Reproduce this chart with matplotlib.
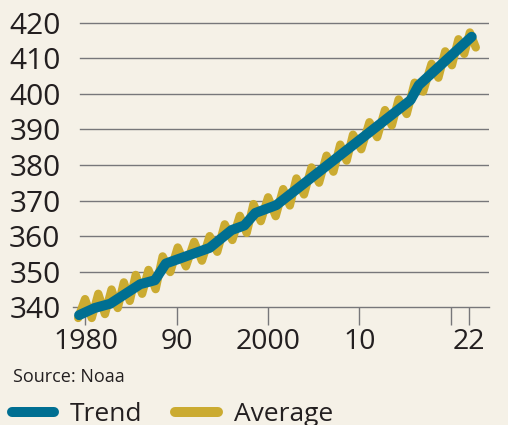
import matplotlib
matplotlib.use("Agg")
import matplotlib.pyplot as plt
from matplotlib.lines import Line2D

# ---- data ----
trend_years = [1979.3, 1981.0, 1982.7, 1986.0, 1987.6, 1988.8, 1993.6, 1996.0,
               1997.4, 1998.6, 2000.9, 2015.6, 2016.5, 2022.3]
trend_values = [337.8, 339.8, 341.0, 346.5, 347.6, 352.3, 356.7, 361.7,
                363.0, 366.5, 368.7, 398.2, 402.4, 416.0]

avg_years = [1979.2, 1979.95, 1980.68, 1981.4, 1982.13, 1982.85, 1983.53, 1984.2,
             1984.85, 1985.5, 1986.2, 1986.9, 1987.68, 1988.45, 1989.28, 1990.1,
             1991.0, 1991.9, 1992.75, 1993.6, 1994.43, 1995.25, 1996.08, 1996.9,
             1997.65, 1998.4, 1999.2, 2000.0, 2000.83, 2001.65, 2002.38, 2003.1,
             2003.93, 2004.75, 2005.58, 2006.4, 2007.15, 2007.9, 2008.6, 2009.3,
             2010.2, 2011.1, 2011.95, 2012.8, 2013.55, 2014.3, 2015.18, 2016.05,
             2016.98, 2017.9, 2018.65, 2019.4, 2020.13, 2020.85, 2021.48, 2022.1,
             2022.75]
avg_values = [337.0, 342.3, 337.0, 343.8, 338.1, 345.0, 339.8, 347.0,
              341.8, 349.1, 343.8, 350.5, 345.1, 354.3, 349.9, 356.8,
              351.5, 358.4, 353.1, 360.0, 355.6, 363.3, 358.9, 365.7,
              360.9, 369.0, 364.2, 370.9, 365.6, 373.2, 368.6, 376.2,
              371.7, 379.3, 375.0, 382.6, 378.1, 385.7, 381.2, 388.5,
              384.4, 392.0, 387.8, 395.4, 391.1, 398.4, 394.3, 403.1,
              400.6, 408.4, 404.5, 411.9, 408.0, 415.3, 411.2, 417.2,
              413.0]

y_ticks = [340, 350, 360, 370, 380, 390, 400, 410, 420]
x_ticks = [1980, 1990, 2000, 2010, 2020, 2022]
x_tick_labels = ["1980", "90", "2000", "10", "", "22"]

# ---- style ----
BG = "#f5f1e7"
BLUE = "#006f92"
GOLD = "#cbab31"
GRID = "#77777a"
TXT = "#231f20"
FONT = "Open Sans"

W, H = 508, 425
fig = plt.figure(figsize=(W / 100, H / 100), dpi=100, facecolor=BG)

ax_l, ax_r = 73, 489
ax_bot, ax_top = 307.3, 15.4
ax = fig.add_axes([ax_l / W, 1 - ax_bot / H, (ax_r - ax_l) / W, (ax_bot - ax_top) / H])
ax.set_facecolor(BG)

px_per_year = 9.13
x0 = 1980 - (85.5 - ax_l) / px_per_year
x1 = 1980 + (ax_r - 85.5) / px_per_year
ax.set_xlim(x0, x1)
ax.set_ylim(340, 422)

grid_start = (80 - ax_l) / (ax_r - ax_l)
for v in y_ticks[1:]:
    ax.axhline(v, xmin=grid_start, xmax=1, color=GRID, lw=1.0, zorder=1)

for s in ["top", "right", "left"]:
    ax.spines[s].set_visible(False)
ax.spines["bottom"].set_color(GRID)
ax.spines["bottom"].set_linewidth(1.0)

ax.set_yticks(y_ticks)
ax.set_yticklabels([str(v) for v in y_ticks], fontsize=21.5, family=FONT, color=TXT)
ax.tick_params(axis="y", length=0, pad=9)

ax.set_xticks(x_ticks)
ax.set_xticklabels(x_tick_labels, fontsize=20.5, family=FONT, color=TXT)
ax.tick_params(axis="x", direction="out", length=12.7, width=1.0, color=GRID, pad=2)

ax.plot(avg_years, avg_values, color=GOLD, lw=6.0, solid_joinstyle="round",
        solid_capstyle="round", clip_on=False, zorder=3)
ax.plot(trend_years, trend_values, color=BLUE, lw=7.2, solid_joinstyle="round",
        solid_capstyle="round", clip_on=False, zorder=4)

fig.text(13 / W, 1 - 377 / H, "Source: Noaa", fontsize=13, family=FONT, color=TXT,
         va="center", ha="left")

ly = 1 - 412 / H
fig.add_artist(Line2D([12 / W, 54 / W], [ly, ly], color=BLUE, lw=7.2,
                      solid_capstyle="round", transform=fig.transFigure))
fig.add_artist(Line2D([175 / W, 218 / W], [ly, ly], color=GOLD, lw=7.2,
                      solid_capstyle="round", transform=fig.transFigure))
fig.text(70 / W, 1 - 421 / H, "Trend", fontsize=19, family=FONT, color=TXT,
         va="baseline", ha="left")
fig.text(234 / W, 1 - 421 / H, "Average", fontsize=19, family=FONT, color=TXT,
         va="baseline", ha="left")

fig.savefig("out.png", dpi=100, facecolor=BG)
